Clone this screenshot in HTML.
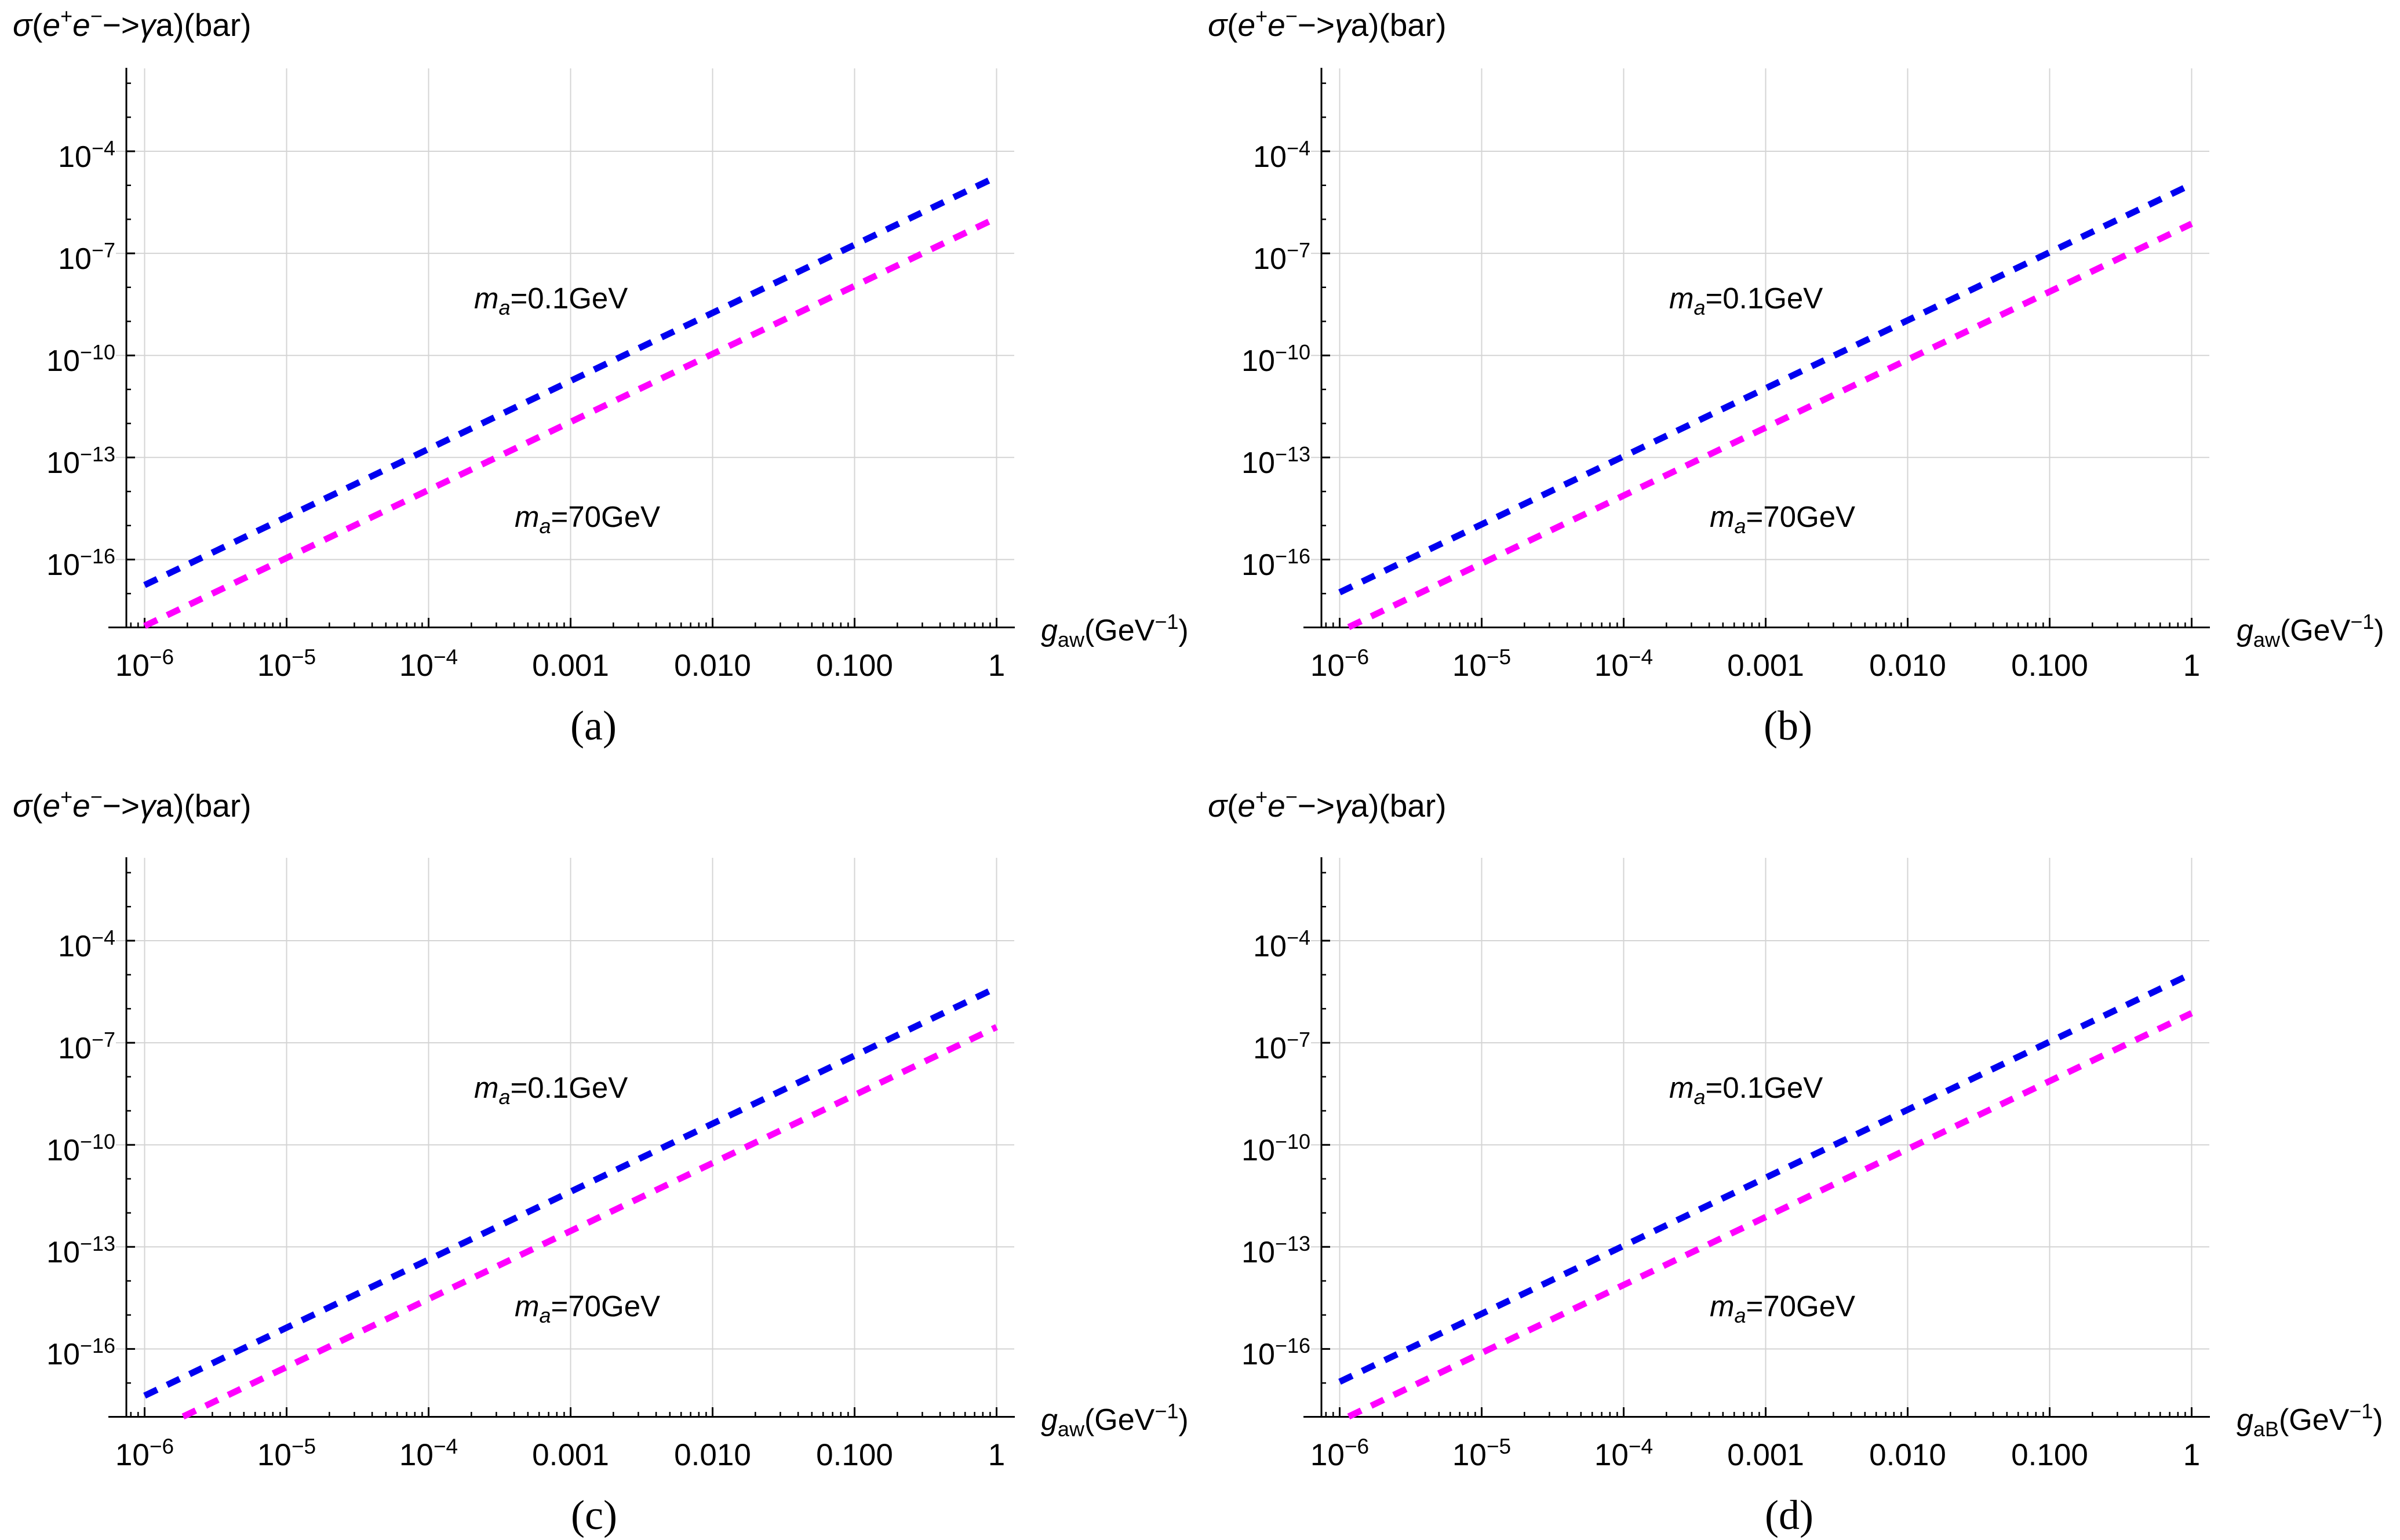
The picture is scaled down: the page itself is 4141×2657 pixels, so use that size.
<!DOCTYPE html>
<html><head><meta charset="utf-8"><style>
html,body{margin:0;padding:0;background:#fff}
svg{display:block}
text{font-family:"Liberation Sans",sans-serif;fill:#000}
.cap{font-family:"Liberation Serif",serif}
</style></head><body>
<svg width="4141" height="2657" viewBox="0 0 4141 2657" xmlns="http://www.w3.org/2000/svg">
<defs>
<path id="mt" d="M73.8 1082v-8M116.9 1082v-8M147.6 1082v-8M171.3 1082v-8M190.7 1082v-8M207.1 1082v-8M221.3 1082v-8M233.9 1082v-8" stroke="#000" stroke-width="2.5" fill="none"/>
<g id="frame">
  <g stroke="#d4d4d4" stroke-width="2" fill="none">
    <path d="M200 261H1750M200 437.1H1750M200 613.2H1750M200 789.3H1750M200 965.4H1750"/>
    <path d="M249.5 118V1082M494.5 118V1082M739.5 118V1082M984.5 118V1082M1229.5 118V1082M1474.5 118V1082M1719.5 118V1082"/>
  </g>
  <g stroke="#000" stroke-width="3" fill="none">
    <path d="M218 117V1083M187 1082.5H1751"/>
    <path d="M249.5 1082v-16M494.5 1082v-16M739.5 1082v-16M984.5 1082v-16M1229.5 1082v-16M1474.5 1082v-16M1719.5 1082v-16"/>
    <path d="M238.3 1082v-8M225.8 1082v-8" stroke-width="2.5"/>
    <path d="M218 261h15M218 437.1h15M218 613.2h15M218 789.3h15M218 965.4h15"/>
    <path stroke-width="2.5" d="M218 143.6h8M218 202.3h8M218 319.7h8M218 378.4h8M218 495.8h8M218 554.5h8M218 671.9h8M218 730.6h8M218 848h8M218 906.7h8M218 1024.1h8"/>
  </g>
  <use href="#mt" x="249.5"/><use href="#mt" x="494.5"/><use href="#mt" x="739.5"/>
  <use href="#mt" x="984.5"/><use href="#mt" x="1229.5"/><use href="#mt" x="1474.5"/>
</g>
<g id="ylab" font-size="52" text-anchor="end">
<text x="199" y="288">10<tspan dy="-20" font-size="36">−4</tspan></text>
<text x="199" y="464">10<tspan dy="-20" font-size="36">−7</tspan></text>
<text x="199" y="640">10<tspan dy="-20" font-size="36">−10</tspan></text>
<text x="199" y="816">10<tspan dy="-20" font-size="36">−13</tspan></text>
<text x="199" y="992">10<tspan dy="-20" font-size="36">−16</tspan></text>
</g>
<g id="xlab" font-size="53" text-anchor="middle">
<text x="249.5" y="1166">10<tspan dy="-20" font-size="37">−6</tspan></text>
<text x="494.5" y="1166">10<tspan dy="-20" font-size="37">−5</tspan></text>
<text x="739.5" y="1166">10<tspan dy="-20" font-size="37">−4</tspan></text>
<text x="984.5" y="1166">0.001</text>
<text x="1229.5" y="1166">0.010</text>
<text x="1474.5" y="1166">0.100</text>
<text x="1719.5" y="1166">1</text>
</g>
<text id="ttl" x="22" y="62" font-size="55"><tspan font-style="italic">σ</tspan>(<tspan font-style="italic">e</tspan><tspan dy="-22" font-size="36">+</tspan><tspan dy="22" font-style="italic">e</tspan><tspan dy="-22" font-size="36">−</tspan><tspan dy="22">−&gt;</tspan><tspan font-style="italic">γ</tspan>a)(bar)</text>
<g id="ann">
<text x="818" y="532" font-size="51"><tspan font-style="italic">m</tspan><tspan font-style="italic" dy="11" font-size="36">a</tspan><tspan dy="-11">=0.1GeV</tspan></text>
<text x="888" y="909" font-size="51"><tspan font-style="italic">m</tspan><tspan font-style="italic" dy="11" font-size="36">a</tspan><tspan dy="-11">=70GeV</tspan></text>
</g>
</defs>

<g>
  <use href="#frame"/>
  <line x1="249.5" y1="1009.4" x2="1719.5" y2="305" stroke="#0000f0" stroke-width="11" stroke-dasharray="24 19"/>
  <line x1="249.5" y1="1080" x2="1719.5" y2="376" stroke="#ff00ff" stroke-width="11" stroke-dasharray="24 19"/>
  <use href="#ylab"/><use href="#xlab"/><use href="#ttl"/><use href="#ann"/>
  <text x="1796" y="1105" font-size="52"><tspan font-style="italic">g</tspan><tspan dy="11" font-size="36">aw</tspan><tspan dy="-11">(GeV</tspan><tspan dy="-20" font-size="36">−1</tspan><tspan dy="20">)</tspan></text>
  <text class="cap" x="1024" y="1276" font-size="72" text-anchor="middle">(a)</text>
</g>
<g transform="translate(2062,0)">
  <use href="#frame"/>
  <line x1="249.5" y1="1022" x2="1719.5" y2="318" stroke="#0000f0" stroke-width="11" stroke-dasharray="24 19"/>
  <line x1="265" y1="1082" x2="1719.5" y2="386" stroke="#ff00ff" stroke-width="11" stroke-dasharray="24 19"/>
  <use href="#ylab"/><use href="#xlab"/><use href="#ttl"/><use href="#ann"/>
  <text x="1797" y="1105" font-size="52"><tspan font-style="italic">g</tspan><tspan dy="11" font-size="36">aw</tspan><tspan dy="-11">(GeV</tspan><tspan dy="-20" font-size="36">−1</tspan><tspan dy="20">)</tspan></text>
  <text class="cap" x="1023" y="1276" font-size="72" text-anchor="middle">(b)</text>
</g>
<g transform="translate(0,1362)">
  <use href="#frame"/>
  <line x1="249.5" y1="1046" x2="1719.5" y2="342" stroke="#0000f0" stroke-width="11" stroke-dasharray="24 19"/>
  <line x1="316" y1="1082" x2="1719.5" y2="410" stroke="#ff00ff" stroke-width="11" stroke-dasharray="24 19"/>
  <use href="#ylab"/><use href="#xlab"/><use href="#ttl" y="-15"/><use href="#ann"/>
  <text x="1796" y="1105" font-size="52"><tspan font-style="italic">g</tspan><tspan dy="11" font-size="36">aw</tspan><tspan dy="-11">(GeV</tspan><tspan dy="-20" font-size="36">−1</tspan><tspan dy="20">)</tspan></text>
  <text class="cap" x="1025" y="1276" font-size="72" text-anchor="middle">(c)</text>
</g>
<g transform="translate(2062,1362)">
  <use href="#frame"/>
  <line x1="249.5" y1="1022" x2="1719.5" y2="318" stroke="#0000f0" stroke-width="11" stroke-dasharray="24 19"/>
  <line x1="265" y1="1082" x2="1719.5" y2="386" stroke="#ff00ff" stroke-width="11" stroke-dasharray="24 19"/>
  <use href="#ylab"/><use href="#xlab"/><use href="#ttl" y="-15"/><use href="#ann"/>
  <text x="1797" y="1105" font-size="52"><tspan font-style="italic">g</tspan><tspan dy="11" font-size="36">aB</tspan><tspan dy="-11">(GeV</tspan><tspan dy="-20" font-size="36">−1</tspan><tspan dy="20">)</tspan></text>
  <text class="cap" x="1025" y="1276" font-size="72" text-anchor="middle">(d)</text>
</g>
</svg>
</body></html>
